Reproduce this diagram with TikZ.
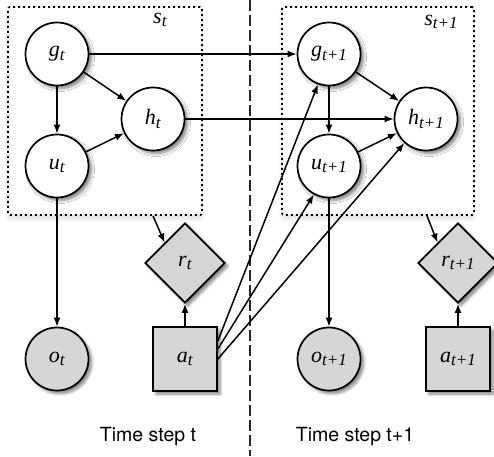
\documentclass[tikz,border=0pt]{standalone}
\usepackage{fontspec}
\setmainfont{Liberation Serif}
\newfontfamily\labelsans{TeX Gyre Heros}
\usetikzlibrary{arrows.meta,shapes.geometric,shadows.blur}
\newcommand{\lab}[2]{\textit{#1}{\fontsize{17}{17}\selectfont\raisebox{-0.45ex}{\textit{#2}}}}
\tikzset{
  vshadow/.style={blur shadow={shadow xshift=3pt,shadow yshift=-3pt,shadow blur steps=6,shadow blur radius=3pt,shadow opacity=50}},
  hidden/.style={circle,draw,line width=1.7pt,fill=white,minimum size=63pt,inner sep=0pt,font=\fontsize{22}{22}\selectfont,vshadow},
  obs/.style={hidden,fill=black!16},
  rew/.style={diamond,draw,line width=1.7pt,fill=black!16,minimum width=80pt,minimum height=80pt,inner sep=0pt,font=\fontsize{22}{22}\selectfont,vshadow},
  act/.style={rectangle,draw,line width=1.7pt,fill=black!16,minimum size=64pt,inner sep=0pt,font=\fontsize{22}{22}\selectfont,vshadow},
  statebox/.style={rectangle,draw,fill=white,line width=1.8pt,dash pattern=on 2pt off 3pt,rounded corners=2pt,inner sep=0pt,
    blur shadow={shadow xshift=0pt,shadow yshift=-4pt,shadow blur steps=6,shadow blur radius=4pt,shadow opacity=12}},
  arr/.style={line width=1.5pt,-{Latex[length=9pt,width=7pt]}},
  timelbl/.style={font=\labelsans\fontsize{19.5}{19.5}\selectfont},
  slbl/.style={font=\fontsize{22}{22}\selectfont}
}
\begin{document}
\begin{tikzpicture}[x=1pt,y=-1pt]
\useasboundingbox (0,0) rectangle (494,456);
% state boxes
\node[statebox,minimum width=194pt,minimum height=208pt] (bt) at (105,111) {};
\node[statebox,minimum width=192pt,minimum height=208pt] (b1) at (378,111) {};
\node[slbl] (st) at (160,20) {\lab{s}{t}};
\node[slbl] (s1) at (441,22) {\lab{s}{t+1}};
% divider
\coordinate (dtop) at (250,0);
\coordinate (dbot) at (250,456);
\draw[line width=1.5pt,black!85,dash pattern=on 11pt off 4pt] (dtop) -- (dbot);
% time step t
\node[hidden] (gt) at (57,54) {\lab{g}{t}};
\node[hidden] (ht) at (153,119) {\lab{h}{t}};
\node[hidden] (ut) at (57,166) {\lab{u}{t}};
\node[obs] (ot) at (57,359) {\lab{o}{t}};
\node[rew] (rt) at (185,263) {\lab{r}{t}};
\node[act] (at) at (185,359) {\lab{a}{t}};
% time step t+1
\node[hidden] (g1) at (329,54) {\lab{g}{t+1}};
\node[hidden] (h1) at (426,119) {\lab{h}{t+1}};
\node[hidden] (u1) at (329,166) {\lab{u}{t+1}};
\node[obs] (o1) at (329,359) {\lab{o}{t+1}};
\node[rew] (r1) at (458,263) {\lab{r}{t+1}};
\node[act] (a1) at (458,359) {\lab{a}{t+1}};
% edges t
\draw[arr] (gt) -- (ut);
\draw[arr] (gt) -- (ht);
\draw[arr] (ut) -- (ht);
\draw[arr] (ut) -- (ot);
\draw[arr] (at) -- (rt);
\draw[arr] ([xshift=48pt]bt.south) -- (rt.north west);
% temporal edges
\draw[arr] (gt) -- (g1);
\draw[arr] (ht) -- (h1);
\draw[arr] ([yshift=18pt]at.east) -- (g1.250);
\draw[arr] ([yshift=10pt]at.east) -- (u1.242);
\draw[arr] (at.east) -- (h1.228);
% edges t+1
\draw[arr] (g1) -- (u1);
\draw[arr] (g1) -- (h1);
\draw[arr] (u1) -- (h1);
\draw[arr] (u1) -- (o1);
\draw[arr] (a1) -- (r1);
\draw[arr] ([xshift=49pt]b1.south) -- (r1.north west);
% captions
\node[timelbl] (tt) at (148,437) {Time step t};
\node[timelbl] (t1) at (355,437) {Time step t+1};
\end{tikzpicture}
\end{document}
